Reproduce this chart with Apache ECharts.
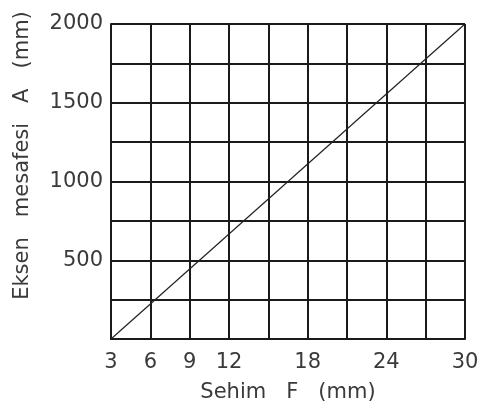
<!DOCTYPE html>
<html>
<head>
<meta charset="utf-8">
<script src="https://cdn.jsdelivr.net/npm/echarts@6/dist/echarts.min.js"></script>
<style>html,body{margin:0;padding:0;background:#fff;}#c{width:482px;height:408px;}</style>
</head>
<body>
<div id="c"></div>
<script>
const sehimF = [3, 30];
const eksenA = [0, 2000];
const xTickLabels = [3, 6, 9, 12, 18, 24, 30];
const yTickLabels = [500, 1000, 1500, 2000];
const xName = 'Sehim   F   (mm)';
const yName = 'Eksen   mesafesi   A   (mm)';

const chart = echarts.init(document.getElementById('c'));
const font = 'DejaVu Sans';
const txtColor = '#3a3a3a';
const lineStyle = {color: '#1a1a1a', width: 2};
chart.setOption({
  animation: false,
  grid: {left: 111, right: 17, top: 24, bottom: 68, containLabel: false},
  xAxis: {
    type: 'value', min: 3, max: 30, interval: 3,
    name: xName, nameLocation: 'middle', nameGap: 43,
    nameTextStyle: {fontFamily: font, fontSize: 21, color: txtColor},
    axisLine: {show: true, lineStyle: lineStyle},
    axisTick: {show: false},
    splitLine: {show: true, lineStyle: lineStyle},
    axisLabel: {
      fontFamily: font, fontSize: 21, color: txtColor, margin: 13,
      formatter: v => xTickLabels.includes(v) ? String(v) : ''
    }
  },
  yAxis: {
    type: 'value', min: 0, max: 2000, interval: 250,
    name: yName, nameLocation: 'middle', nameGap: 78, nameRotate: 90,
    nameTextStyle: {fontFamily: font, fontSize: 21, color: txtColor, padding: [0, 0, 0, 52]},
    axisLine: {show: true, lineStyle: lineStyle},
    axisTick: {show: false},
    splitLine: {show: true, lineStyle: lineStyle},
    axisLabel: {
      fontFamily: font, fontSize: 21, color: txtColor, margin: 8, padding: [4, 0, 0, 0],
      formatter: v => yTickLabels.includes(v) ? String(v) : ''
    }
  },
  series: [{
    type: 'line',
    data: sehimF.map((f, i) => [f, eksenA[i]]),
    symbol: 'none',
    lineStyle: {color: '#222', width: 1.2}
  }]
});
</script>
</body>
</html>
